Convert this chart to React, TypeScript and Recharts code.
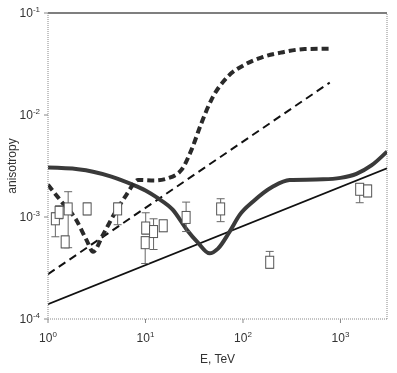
import React from 'react';
import { ComposedChart, Line, Scatter, XAxis, YAxis, ErrorBar, ReferenceLine } from 'recharts';

// thick solid model curve
const solidE = [1, 2.03, 4.47, 7.17, 10, 13.4, 19, 26.3, 34.5, 45.5, 55.4, 73, 92.5, 127, 203, 301, 662, 1000, 1456, 2075, 3000];
const solidA = [3.05e-3, 2.94e-3, 2.49e-3, 2.1e-3, 1.82e-3, 1.53e-3, 1.18e-3, 7.6e-4, 5.6e-4, 4.4e-4, 4.9e-4, 7.2e-4, 1.05e-3, 1.42e-3, 1.99e-3, 2.31e-3, 2.34e-3, 2.42e-3, 2.65e-3, 3.2e-3, 4.38e-3];

// thick dashed model curve
const dashE = [1, 1.37, 1.95, 2.48, 2.9, 3.66, 4.83, 6.37, 7.45, 8.38, 12.4, 17, 23.4, 29.6, 37.4, 47.4, 70.2, 104, 154, 248, 430, 775];
const dashA = [2.07e-3, 1.42e-3, 9.35e-4, 5.96e-4, 4.57e-4, 6.67e-4, 1.09e-3, 1.65e-3, 2.07e-3, 2.31e-3, 2.28e-3, 2.4e-3, 2.9e-3, 4.55e-3, 8.3e-3, 0.0141, 0.0239, 0.0311, 0.0366, 0.041, 0.0443, 0.0446];

// thin straight lines
const thinDashE = [1, 776];
const thinDashA = [2.75e-4, 0.0208];
const thinSolidE = [1, 3000];
const thinSolidA = [1.4e-4, 3.0e-3];

// measurements
const ptE = [1.19, 1.3, 1.5, 1.61, 2.52, 5.18, 10.05, 9.93, 12.1, 15.2, 26.1, 59, 188, 1574, 1900];
const ptA = [9.6e-4, 1.11e-3, 5.7e-4, 1.2e-3, 1.2e-3, 1.2e-3, 7.8e-4, 5.6e-4, 7.2e-4, 8.2e-4, 9.9e-4, 1.2e-3, 3.6e-4, 1.87e-3, 1.8e-3];
const ptLow = [6.4e-4, 9.6e-4, 5.0e-4, 5.0e-4, 1.05e-3, 8.4e-4, 6.8e-4, 3.5e-4, 4.8e-4, 7.2e-4, 7.2e-4, 9.0e-4, 3.15e-4, 1.38e-3, 1.58e-3];
const ptHigh = [1.1e-3, 1.29e-3, 6.5e-4, 1.77e-3, 1.37e-3, 1.37e-3, 1.1e-3, 6.4e-4, 9.6e-4, 9.3e-4, 1.4e-3, 1.51e-3, 4.6e-4, 2.1e-3, 2.05e-3];

const xTicks = [1, 10, 100, 1000];
const yTicks = [1e-4, 1e-3, 1e-2, 1e-1];

const toRows = (xs: number[], ys: number[]) => xs.map((x, i) => ({ x, y: ys[i] }));

const points = ptE.map((x, i) => ({
  x,
  y: ptA[i],
  err: [ptA[i] - ptLow[i], ptHigh[i] - ptA[i]],
}));

const font = '"Liberation Sans", Arial, sans-serif';

const XTick = (props: any) => {
  const { x, y, payload } = props;
  const exp = Math.round(Math.log10(payload.value));
  return (
    <text x={x} y={y + 17} textAnchor="middle" fontSize={12} fill="#333" fontFamily={font}>
      <tspan>10</tspan>
      <tspan dy={-5} fontSize={8}>{exp}</tspan>
    </text>
  );
};

const YTick = (props: any) => {
  const { x, y, payload } = props;
  const exp = Math.round(Math.log10(payload.value));
  return (
    <text x={x - 2} y={y + 4} textAnchor="end" fontSize={12} fill="#333" fontFamily={font}>
      <tspan>10</tspan>
      <tspan dy={-5} fontSize={8}>{exp}</tspan>
    </text>
  );
};

const Box = (props: any) => {
  const { cx, cy } = props;
  if (cx == null || cy == null) return null;
  return <rect x={cx - 4} y={cy - 6} width={8} height={12} fill="#fff" stroke="#555" strokeWidth={1} />;
};

export default function App() {
  return (
    <div style={{ position: 'fixed', left: 0, top: 0 }}>
      <ComposedChart width={397} height={373} margin={{ top: 13, right: 10, left: 0, bottom: 0 }}>
        <XAxis
          dataKey="x"
          type="number"
          scale="log"
          domain={[1, 3000]}
          allowDataOverflow
          ticks={xTicks}
          tick={<XTick />}
          tickSize={4}
          height={54}
          axisLine={{ stroke: '#888', strokeDasharray: '1 1' }}
          tickLine={{ stroke: '#888' }}
          label={{ value: 'E, TeV', position: 'insideBottom', offset: 10, fontSize: 12, fill: '#333', fontFamily: font }}
        />
        <YAxis
          dataKey="y"
          type="number"
          scale="log"
          domain={[1e-4, 1e-1]}
          allowDataOverflow
          ticks={yTicks}
          tick={<YTick />}
          tickSize={4}
          width={48}
          axisLine={{ stroke: '#888', strokeDasharray: '1 1' }}
          tickLine={{ stroke: '#888' }}
          label={{ value: 'anisotropy', angle: -90, position: 'insideLeft', offset: 12, fontSize: 12, fill: '#333', fontFamily: font, style: { textAnchor: 'middle' } }}
        />
        <ReferenceLine y={0.1} stroke="#000" strokeWidth={1.2} />
        <ReferenceLine x={3000} stroke="#888" strokeDasharray="1 1" />
        <Line data={toRows(thinSolidE, thinSolidA)} dataKey="y" type="linear" stroke="#111" strokeWidth={1.8} dot={false} isAnimationActive={false} />
        <Line data={toRows(thinDashE, thinDashA)} dataKey="y" type="linear" stroke="#111" strokeWidth={2} strokeDasharray="8 5" dot={false} isAnimationActive={false} />
        <Line data={toRows(solidE, solidA)} dataKey="y" type="monotone" stroke="#3a3a3a" strokeWidth={4} dot={false} isAnimationActive={false} />
        <Line data={toRows(dashE, dashA)} dataKey="y" type="monotone" stroke="#2a2a2a" strokeWidth={4} strokeDasharray="7 4" dot={false} isAnimationActive={false} />
        <Scatter data={points} dataKey="y" shape={<Box />} isAnimationActive={false}>
          <ErrorBar dataKey="err" direction="y" width={4} stroke="#666" strokeWidth={1} />
        </Scatter>
      </ComposedChart>
    </div>
  );
}
